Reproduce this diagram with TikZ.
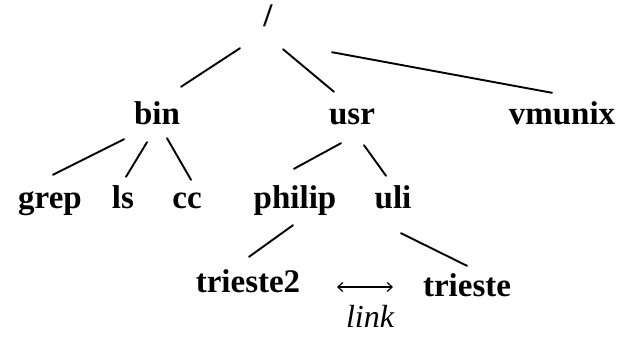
\documentclass[tikz,border=0pt]{standalone}
\usepackage{fontspec}
\setmainfont{Liberation Serif}
\usetikzlibrary{arrows.meta}

\tikzset{
  dir/.style={font=\fontsize{33}{40}\selectfont\bfseries,anchor=base,inner sep=0pt,text height=20pt,text depth=7pt},
  branch/.style={line width=1.9pt},
  linkarrow/.style={line width=1.2pt,{Straight Barb[length=5pt,width=9pt]}-{Straight Barb[length=5pt,width=9pt]}},
}

\begin{document}
\begin{tikzpicture}[x=1pt,y=-1pt,line cap=round,line join=round]
  \useasboundingbox (0,0) rectangle (629,338);
  % directories
  \node[dir] (root) at (268,26) {/};
  \node[dir] (bin) at (157,124) {bin};
  \node[dir] (usr) at (352,124) {usr};
  \node[dir] (vmunix) at (562,124) {vmunix};
  \node[dir] (grep) at (50,208) {grep};
  \node[dir] (ls) at (123,208) {ls};
  \node[dir] (cc) at (187,208) {cc};
  \node[dir] (philip) at (295,208) {philip};
  \node[dir] (uli) at (393,208) {uli};
  \node[dir] (trieste2) at (248,292) {trieste2};
  \node[dir] (trieste) at (467,296) {trieste};
  \node[font=\fontsize{32}{38}\selectfont\itshape,anchor=base,inner sep=0pt] (link) at (370,327) {link};
  % tree edges
  \draw[branch] ([shift={(-28,15)}]root.south) -- ([shift={(24,-17)}]bin.north);
  \draw[branch] ([shift={(15,16)}]root.south) -- ([shift={(-18,-12)}]usr.north);
  \draw[branch] ([shift={(64,19)}]root.south) -- ([shift={(-10,-11)}]vmunix.north);
  \draw[branch] ([shift={(-33,8)}]bin.south) -- ([shift={(3,-13)}]grep.north);
  \draw[branch] ([shift={(-10,11)}]bin.south) -- ([shift={(3,-11)}]ls.north);
  \draw[branch] ([shift={(10,7)}]bin.south) -- ([shift={(4,-8)}]cc.north);
  \draw[branch] ([shift={(-11,12)}]usr.south) -- ([shift={(-1,-19)}]philip.north);
  \draw[branch] ([shift={(12,14)}]usr.south) -- ([shift={(-7,-12)}]uli.north);
  \draw[branch] ([shift={(-2,10)}]philip.south) -- ([shift={(1,-15)}]trieste2.north);
  \draw[branch] ([shift={(8,18)}]uli.south) -- ([shift={(0,-10)}]trieste.north);
  % symbolic link
  \draw[linkarrow] ([shift={(89,-5)}]trieste2.base) -- ([shift={(-74,-9)}]trieste.base);
\end{tikzpicture}
\end{document}
